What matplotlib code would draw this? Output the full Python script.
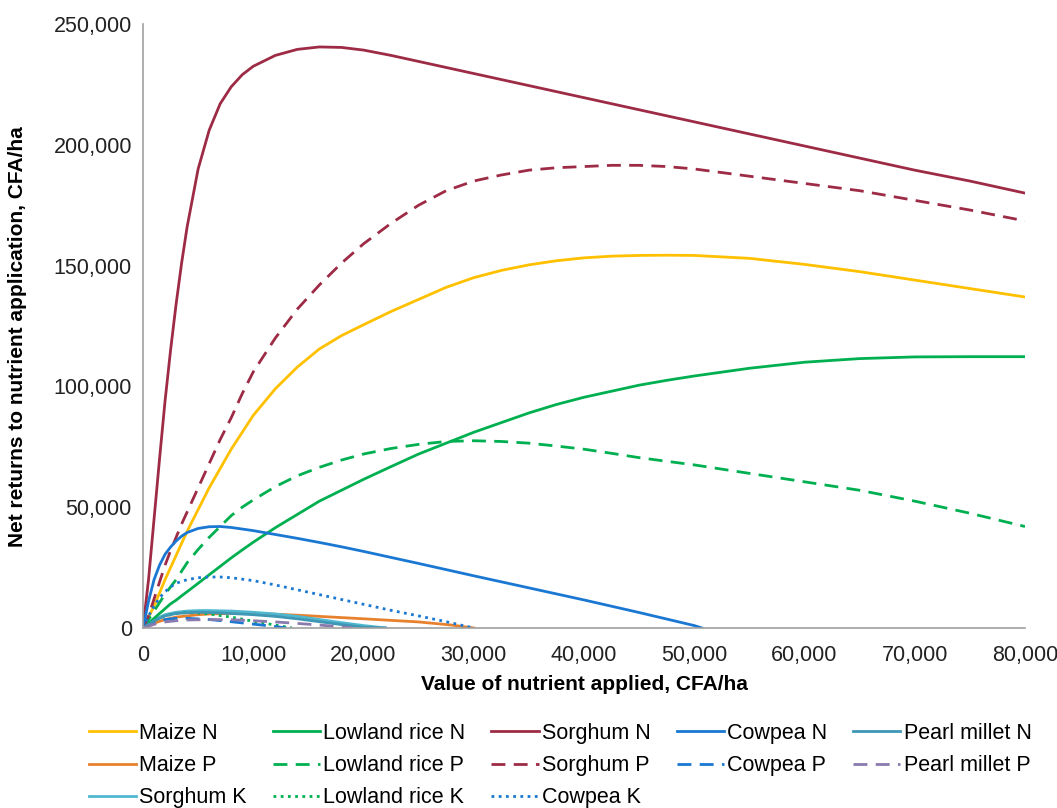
import matplotlib.pyplot as plt
from matplotlib.ticker import FuncFormatter

# values (CFA/ha)
x_long = [0, 500, 1000, 1500, 2000, 2500, 3000, 3500, 4000, 5000, 6000, 7000, 8000, 9000,
          10000, 12000, 14000, 16000, 18000, 20000, 22500, 25000, 27500, 30000, 32500,
          35000, 37500, 40000, 42500, 45000, 47500, 50000, 55000, 60000, 65000, 70000,
          75000, 80000]

maize_n = [0, 4500, 9000, 14500, 20000, 25000, 30000, 35000, 40000, 49000, 58000, 66000, 74000, 81000,
           88000, 99000, 108000, 115500, 121000, 125500, 131000, 136000, 141000, 145000, 148000,
           150300, 152000, 153200, 153900, 154200, 154300, 154200, 153000, 150500, 147500, 144000,
           140500, 137000]
rice_n = [0, 2000, 4000, 6000, 8000, 10000, 11500, 13300, 15000, 18500, 22000, 25500, 29000, 32300,
          35500, 41500, 47000, 52500, 57000, 61500, 66800, 72000, 76500, 81000, 85000,
          89000, 92500, 95500, 98000, 100500, 102500, 104300, 107500, 110000, 111500, 112200,
          112300, 112300]
rice_p = [0, 3500, 7000, 10500, 14000, 17000, 20000, 23500, 27000, 32500, 37500, 42000, 46500, 50000,
          53000, 58500, 63000, 66500, 69500, 72000, 74300, 76000, 77200, 77500, 77200,
          76500, 75300, 74000, 72300, 70500, 69000, 67500, 64000, 60500, 57000, 52500,
          47500, 42000]
sorghum_n = [0, 20000, 45000, 70000, 94000, 115000, 134000, 151000, 166000, 190000, 206000, 217000, 224000, 229000,
             232500, 237000, 239500, 240500, 240300, 239200, 237000, 234500, 232000, 229500, 227000,
             224500, 222000, 219500, 217000, 214500, 212000, 209500, 204500, 199500, 194500, 189500,
             185000, 180000]
sorghum_p = [0, 5000, 12000, 19000, 26000, 32000, 37500, 43000, 48000, 58000, 68000, 78000, 87000, 97000,
             106000, 120000, 132000, 142000, 151000, 159000, 167500, 175000, 181000, 185000, 187500,
             189500, 190500, 191000, 191500, 191500, 191000, 190000, 187000, 184000, 181000, 177000,
             173000, 168500]

x_cow_n = [0, 500, 1000, 1500, 2000, 2500, 3000, 3500, 4000, 5000, 6000, 7000, 8000, 10000,
           12000, 14000, 16000, 18000, 20000, 25000, 30000, 35000, 40000, 45000, 50000, 50700]
cowpea_n = [0, 11000, 20000, 26000, 30500, 33500, 36000, 38000, 39500, 41200, 41900, 42000, 41600, 40300,
            38700, 37100, 35400, 33600, 31700, 26700, 21600, 16600, 11600, 6400, 1000, 0]

x_cow_k = [0, 500, 1000, 1500, 2000, 2500, 3000, 4000, 5000, 6000, 7000, 8000, 10000, 12000,
           14000, 16000, 18000, 20000, 22500, 25000, 27500, 30000]
cowpea_k = [0, 5000, 9000, 12500, 15000, 17000, 18500, 20000, 20800, 21100, 21100, 20800, 19600, 17800,
            15800, 13800, 11800, 9800, 7300, 5000, 2600, 0]

x_maize_p = [0, 1000, 2000, 3000, 4000, 5000, 6000, 8000, 10000, 12000, 14000, 16000,
             18000, 20000, 25000, 28000, 30000]
maize_p = [0, 2000, 3500, 4500, 5000, 5500, 5800, 6000, 6000, 5700, 5300, 4800,
           4300, 3800, 2500, 1200, 0]

x_short = [0, 1000, 2000, 3000, 4000, 5000, 6000, 8000, 10000, 12000, 14000, 16000,
           18000, 20000, 22000]
sorghum_k = [0, 3500, 5500, 6500, 7000, 7200, 7200, 7000, 6500, 5800, 4800, 3500,
             2200, 1000, 0]
millet_n = [0, 3000, 5000, 6000, 6300, 6500, 6400, 6000, 5500, 4800, 3800, 2600,
            1400, 300, 0]

x_millet_p = [0, 1000, 2000, 3000, 4000, 6000, 8000, 10000, 12000, 14000, 16000, 18000, 19000]
millet_p = [0, 1500, 2500, 3000, 3300, 3500, 3400, 3000, 2500, 1900, 1200, 500, 0]

x_cow_p = [0, 1000, 2000, 3000, 4000, 6000, 8000, 10000, 12000, 13000]
cowpea_p = [0, 2500, 3500, 4000, 4000, 3500, 2600, 1600, 600, 0]

x_rice_k = [0, 1000, 2000, 3000, 4000, 5000, 6000, 8000, 10000, 12000, 13500]
rice_k = [0, 3000, 5000, 6000, 6400, 6200, 5800, 4500, 2800, 1200, 0]

YELLOW = '#FFC000'
ORANGE = '#E8812E'
GREEN = '#00B050'
MAROON = '#9E2B45'
BLUE = '#1A78D2'
TEAL = '#3E97B5'
LTEAL = '#4FB8CF'
PURPLE = '#8A7AAE'

plt.rcParams['font.family'] = ['Liberation Sans', 'DejaVu Sans']

fig = plt.figure(figsize=(10.57, 8.08), dpi=100)
ax = fig.add_axes([0.1353, 0.2228, 0.8344, 0.7475])

dash = (0, (5, 3))
dot = (0, (1, 1.6))
lw = 2.0

lines = {}
lines['Maize N'] = ax.plot(x_long, maize_n, color=YELLOW, lw=lw)[0]
lines['Maize P'] = ax.plot(x_maize_p, maize_p, color=ORANGE, lw=lw)[0]
lines['Sorghum K'] = ax.plot(x_short, sorghum_k, color=LTEAL, lw=lw)[0]
lines['Lowland rice N'] = ax.plot(x_long, rice_n, color=GREEN, lw=lw)[0]
lines['Lowland rice P'] = ax.plot(x_long, rice_p, color=GREEN, lw=lw, ls=dash)[0]
lines['Lowland rice K'] = ax.plot(x_rice_k, rice_k, color=GREEN, lw=lw, ls=dot)[0]
lines['Sorghum N'] = ax.plot(x_long, sorghum_n, color=MAROON, lw=lw)[0]
lines['Sorghum P'] = ax.plot(x_long, sorghum_p, color=MAROON, lw=lw, ls=dash)[0]
lines['Cowpea K'] = ax.plot(x_cow_k, cowpea_k, color=BLUE, lw=lw, ls=dot)[0]
lines['Cowpea N'] = ax.plot(x_cow_n, cowpea_n, color=BLUE, lw=lw)[0]
lines['Cowpea P'] = ax.plot(x_cow_p, cowpea_p, color=BLUE, lw=lw, ls=dash)[0]
lines['Pearl millet N'] = ax.plot(x_short, millet_n, color=TEAL, lw=lw)[0]
lines['Pearl millet P'] = ax.plot(x_millet_p, millet_p, color=PURPLE, lw=lw, ls=dash)[0]

ax.set_xlim(0, 80000)
ax.set_ylim(0, 250000)
ax.set_xticks(range(0, 80001, 10000))
ax.set_yticks(range(0, 250001, 50000))
fmt = FuncFormatter(lambda v, p: '{:,.0f}'.format(v))
ax.xaxis.set_major_formatter(fmt)
ax.yaxis.set_major_formatter(fmt)
ax.tick_params(length=0, labelsize=15.5, colors='#222222')
ax.tick_params(axis='x', pad=12)
ax.tick_params(axis='y', pad=8)

for s in ['top', 'right']:
    ax.spines[s].set_visible(False)
for s in ['left', 'bottom']:
    ax.spines[s].set_color('#A0A0A0')
    ax.spines[s].set_linewidth(1.2)

ax.set_xlabel('Value of nutrient applied, CFA/ha', fontsize=15, fontweight='bold', labelpad=7)
ax.set_ylabel('Net returns to nutrient application, CFA/ha', fontsize=15, fontweight='bold')
ax.yaxis.set_label_coords(-0.1315, 0.482)

order = ['Maize N', 'Maize P', 'Sorghum K',
         'Lowland rice N', 'Lowland rice P', 'Lowland rice K',
         'Sorghum N', 'Sorghum P', 'Cowpea K',
         'Cowpea N', 'Cowpea P',
         'Pearl millet N', 'Pearl millet P']
fig.legend([lines[k] for k in order], order, loc='upper center',
           bbox_to_anchor=(0.53, 0.116), ncol=5, frameon=False,
           fontsize=15.5, handlelength=2.2, handletextpad=0.15,
           columnspacing=1.2, labelspacing=0.52, borderaxespad=0)

fig.savefig('out.png', dpi=100)
